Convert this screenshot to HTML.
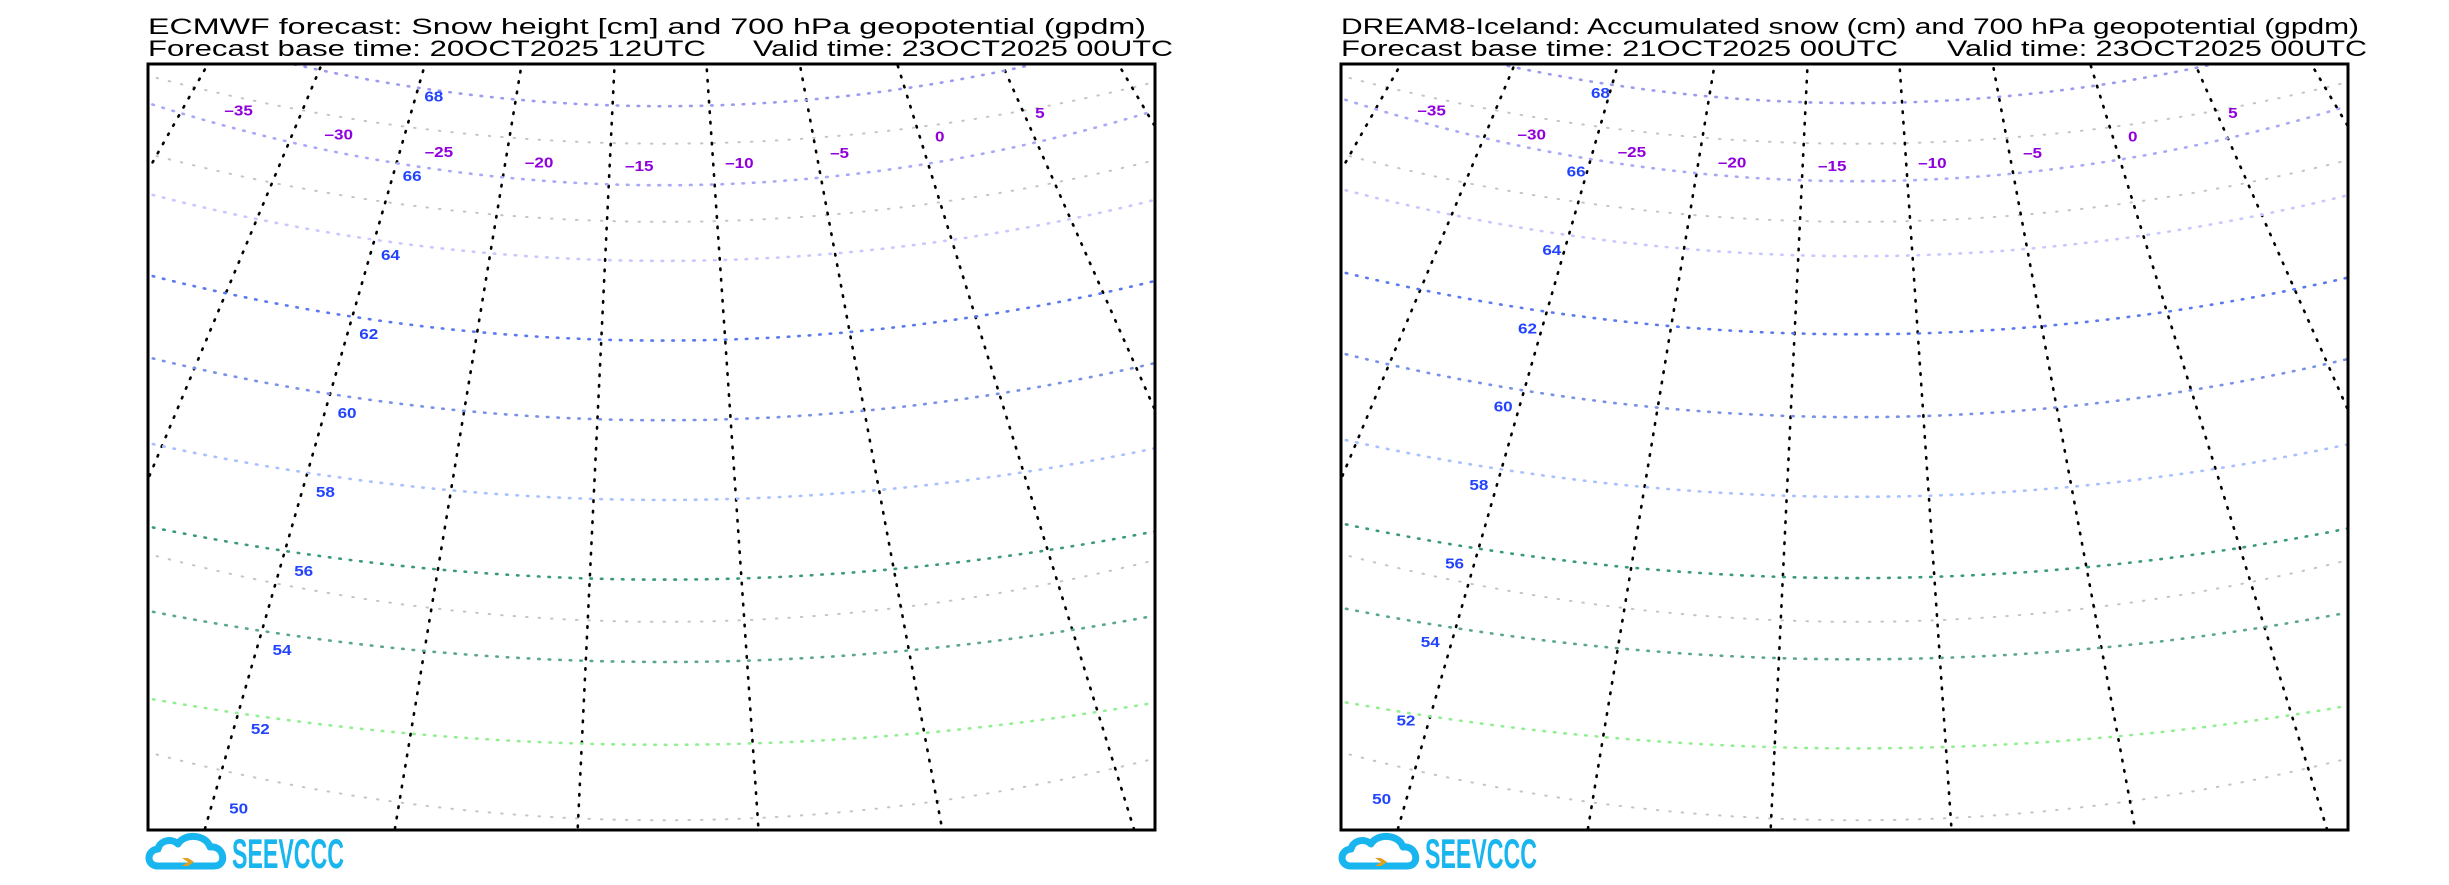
<!DOCTYPE html>
<html><head><meta charset="utf-8"><style>
html,body{margin:0;padding:0;background:#fff;overflow:hidden;width:2449px;height:885px;}
svg{display:block;overflow:hidden;}
text{font-family:"Liberation Sans",sans-serif;}
</style></head><body>
<svg id="root" width="2449" height="885" viewBox="0 0 2449 885" xmlns="http://www.w3.org/2000/svg">
<defs>
<clipPath id="clipL"><rect x="148" y="64" width="1007" height="766"/></clipPath>
<clipPath id="clipR"><rect x="1341" y="64" width="1007" height="766"/></clipPath>
</defs>
<g>
<text x="148" y="34" font-size="22" textLength="998" lengthAdjust="spacingAndGlyphs">ECMWF forecast: Snow height [cm] and 700 hPa geopotential (gpdm)</text>
<text x="148" y="56" font-size="22" textLength="558" lengthAdjust="spacingAndGlyphs">Forecast base time: 20OCT2025 12UTC</text>
<text x="753" y="56" font-size="22" textLength="420" lengthAdjust="spacingAndGlyphs">Valid time: 23OCT2025 00UTC</text>
</g>
<g>
<text x="1341" y="34" font-size="22" textLength="1018" lengthAdjust="spacingAndGlyphs">DREAM8-Iceland: Accumulated snow (cm) and 700 hPa geopotential (gpdm)</text>
<text x="1341" y="56" font-size="22" textLength="557" lengthAdjust="spacingAndGlyphs">Forecast base time: 21OCT2025 00UTC</text>
<text x="1947" y="56" font-size="22" textLength="420" lengthAdjust="spacingAndGlyphs">Valid time: 23OCT2025 00UTC</text>
</g>
<g id="panelL"></g>
<g id="panelR"></g>
<g transform="translate(148,836)">
<path d="M10,30 C-2,30 -2,14 10,13 C12,4 24,2 30,8 C36,-3 58,-2 62,11 C76,9 80,30 66,30 Z" fill="none" stroke="#19b5ef" stroke-width="7" stroke-linejoin="round"/>
<path d="M34,22 L40,26 L34,30 L40,30 L46,26 L40,22 Z" fill="#e0a020"/>
<text x="84" y="32" font-size="42" font-weight="bold" fill="#19b5ef" textLength="112" lengthAdjust="spacingAndGlyphs">SEEVCCC</text>
</g>
<g transform="translate(1341,836)">
<path d="M10,30 C-2,30 -2,14 10,13 C12,4 24,2 30,8 C36,-3 58,-2 62,11 C76,9 80,30 66,30 Z" fill="none" stroke="#19b5ef" stroke-width="7" stroke-linejoin="round"/>
<path d="M34,22 L40,26 L34,30 L40,30 L46,26 L40,22 Z" fill="#e0a020"/>
<text x="84" y="32" font-size="42" font-weight="bold" fill="#19b5ef" textLength="112" lengthAdjust="spacingAndGlyphs">SEEVCCC</text>
</g>
</svg>
<script>
// contour levels (gpdm) and their shape (display-scale units)
const levels = [68, 66, 64, 62, 60, 58, 56, 54, 52];
const levelColors = ['#9a9af0','#a8a8f8','#c8c8ff','#5a78f0','#7890e8','#a8c0ff','#3a9a78','#5aa888','#90f090'];
const midLeft = [68, 118.6, 167, 218, 269, 320, 371, 423.7, 476.7];
const edgeLeft = [16, 66, 124, 176, 228.7, 283.6, 337, 391, 447];
const midRight = [66, 116, 164, 214, 267, 318, 370, 422, 479];
const edgeRight = [14, 63, 121, 174, 226, 281, 335, 389, 449];
const blueLabels = [68, 66, 64, 62, 60, 58, 56, 54, 52, 50];
const purpleLabels = [-35, -30, -25, -20, -15, -10, -5, 0, 5];
const meridianLons = [-70, -60, -50, -40, -30, -20, -10, 0, 10, 20, 30, 40, 50];
const parallelMid = [92, 142, 398, 525];

const S = 1.5625, NS = 'http://www.w3.org/2000/svg';
function mk(tag, attrs, parent){const e=document.createElementNS(NS,tag);for(const k in attrs)e.setAttribute(k,attrs[k]);parent.appendChild(e);return e;}

function panel(gid, ox, clip, mids, edges, lab){
  const g = document.getElementById(gid);
  const X = xr => ox + xr*S, Y = yr => 64 + yr*S;
  const inner = mk('g', {'clip-path':'url(#'+clip+')'}, g);
  
  
  const xc = 330;
  const arc = (mid, edge) => { const k=(mid-edge)/(330*330); return x => (mid-41) - k*(x-xc)*(x-xc); };
  parallelMid.forEach((m) => {
    const f = arc(m, m-43.5); let d='';
    for(let x=-10;x<=660;x+=6){d+=(d?'L':'M')+X(x).toFixed(1)+','+Y(f(x)).toFixed(1);}
    const p = mk('path', {d:d, fill:'none', stroke:'#c4c4c4', 'stroke-width':2, 'stroke-dasharray':'1.5 11', 'stroke-linecap':'round'}, inner);
    
    
  });
  const px = 323, py = -506;
  meridianLons.forEach(lon => {
    const a = 0.665*(lon+5.85)*Math.PI/180, r = 1300;
    const p = mk('line', {x1:X(px), y1:Y(py), x2:X(px+r*Math.sin(a)), y2:Y(py+r*Math.cos(a)), stroke:'#000', 'stroke-width':2.6, 'stroke-dasharray':'1.5 9', 'stroke-linecap':'round'}, inner);
    
    
  });
  levels.forEach((lv,i) => {
    const f = arc(mids[i], edges[i]); let d='';
    for(let x=-10;x<=660;x+=6){d+=(d?'L':'M')+X(x).toFixed(1)+','+Y(f(x)).toFixed(1);}
    const p = mk('path', {d:d, fill:'none', stroke:levelColors[i], 'stroke-width':2.6, 'stroke-dasharray':'1.5 9', 'stroke-linecap':'round'}, inner);
    
    
  });
  blueLabels.forEach((lv) => {
    const x = lab.x0 + (lv-50)*lab.dx;
    const y = (lab.y0-41) - (lv-50)*lab.dy;
    const s = String(lv);
    const t = mk('text', {x:X(x), y:Y(y), 'font-size':15, 'font-weight':'bold', fill:'#2244ff', 'text-anchor':'middle', 'dominant-baseline':'middle', textLength:s.length*9.5, lengthAdjust:'spacingAndGlyphs'}, g);
    t.textContent = s;
    
    
  });
  purpleLabels.forEach((v,i) => {
    const x = 58 + i*64.1;
    const y = (107-41) - 5.3e-4*(x-317)*(x-317);
    const s = v < 0 ? '\u2013' + Math.abs(v) : String(v);
    const t = mk('text', {x:X(x), y:Y(y), 'font-size':15, 'font-weight':'bold', fill:'#9000dd', 'text-anchor':'middle', 'dominant-baseline':'middle', textLength:s.length*9.5, lengthAdjust:'spacingAndGlyphs'}, g);
    t.textContent = s;
    
    
  });
  const fr = mk('rect', {x:ox, y:64, width:1007, height:766, fill:'none', stroke:'#000', 'stroke-width':3}, g);
  
  
}
panel('panelL', 148, 'clipL', midLeft, edgeLeft, {x0:58, dx:6.94, y0:518, dy:25.3});
panel('panelR', 1341, 'clipR', midRight, edgeRight, {x0:26, dx:7.78, y0:512, dy:25.1});
</script>
</body></html>
